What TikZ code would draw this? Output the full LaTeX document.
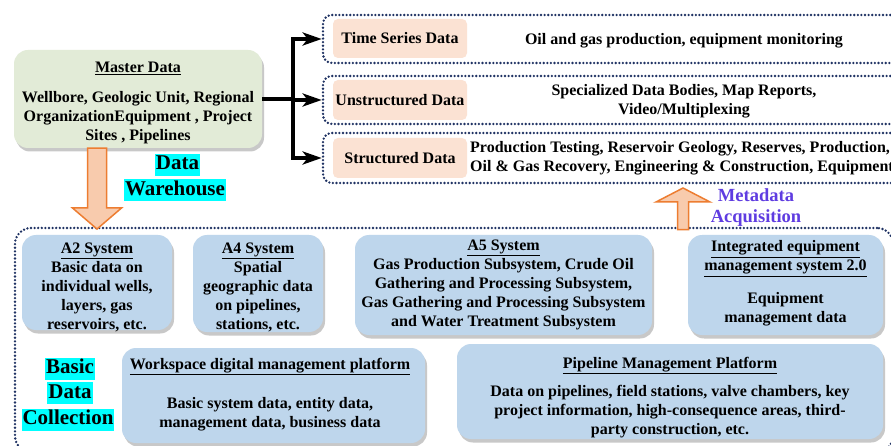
\documentclass[tikz,border=0pt]{standalone}
\usepackage{fontspec}
\setmainfont{Liberation Serif}
\usetikzlibrary{shadows,arrows.meta,calc}
\definecolor{boxblue}{RGB}{190,214,236}
\definecolor{mgreen}{RGB}{226,235,215}
\definecolor{peachf}{RGB}{251,226,211}
\definecolor{navyd}{RGB}{31,50,99}
\definecolor{orfill}{RGB}{248,203,173}
\definecolor{ordraw}{RGB}{237,125,49}
\definecolor{metac}{RGB}{95,60,225}
\definecolor{hlcyan}{RGB}{0,255,255}
\newcommand{\bodyf}{\fontsize{16}{19}\selectfont\bfseries}
\newcommand{\bigf}{\fontsize{21}{24}\selectfont\bfseries}
\newcommand{\metaf}{\fontsize{18.5}{21}\selectfont\bfseries}
\begin{document}
\begin{tikzpicture}[x=1pt,y=-1pt,
  softshadow/.style={drop shadow={shadow xshift=2pt,shadow yshift=-3.5pt,opacity=0.3,fill=black!70}},
  bluebox/.style={fill=boxblue,rounded corners=14pt,inner sep=0pt,softshadow},
  greenbox/.style={fill=mgreen,rounded corners=14pt,inner sep=0pt,softshadow},
  peachbox/.style={fill=peachf,rounded corners=5pt,inner sep=0pt},
  dotframe/.style={draw=navyd,line width=2.6pt,dash pattern=on 0pt off 3.6pt,line cap=round,rounded corners=9pt,inner sep=0pt},
  txt/.style={font=\bodyf,align=center,inner sep=0pt},
  hl/.style={fill=hlcyan,font=\bigf,inner sep=1pt,text height=15pt,text depth=5pt},
  thickline/.style={line width=3.5pt,black},
  tip/.style={-{Stealth[length=19pt,width=13pt,inset=5pt]}},
  bigarrow/.style={fill=orfill,draw=ordraw,line width=1.5pt,line join=miter}
]
\useasboundingbox (0,0) rectangle (891,446);
\fill[white] (0,0) rectangle (891,446);
\clip (0,0) rectangle (891,446);

% top-right dotted frames
\node[dotframe,minimum width=587,minimum height=48] (tsf) at (616.5,39) {};
\node[dotframe,minimum width=587,minimum height=48] (usf) at (616.5,100) {};
\node[dotframe,minimum width=587,minimum height=50] (sf) at (616.5,158) {};

\node[peachbox,minimum width=134,minimum height=39] (tsp) at (400,38.5) {};
\node[peachbox,minimum width=134,minimum height=40] (usp) at (400,100) {};
\node[peachbox,minimum width=134,minimum height=40] (sp) at (400,158) {};
\node[txt] (tst) at (tsp.center) {Time Series Data};
\node[txt] (ust) at (usp.center) {Unstructured Data};
\node[txt] (spt) at (sp.center) {Structured Data};

\node[txt] (tsb) at (684,41) {Oil and gas production, equipment monitoring};
\node[txt] (usb) at (684,101) {Specialized Data Bodies, Map Reports,\\Video/Multiplexing};
\node[txt,align=left,anchor=west] (sb) at (470,158) {Production Testing, Reservoir Geology, Reserves, Production,\\Oil \& Gas Recovery, Engineering \& Construction, Equipment};

% master data
\node[greenbox,minimum width=248,minimum height=98] (master) at (138,99) {};
\node[txt] (mastert) at (138,103) {\underline{Master Data}\\[11pt]Wellbore, Geologic Unit, Regional\\OrganizationEquipment , Project\\Sites , Pipelines};

% connectors
\coordinate (bus) at (293,99);
\draw[thickline] (master.east) -- (bus);
\draw[thickline,line cap=rect] (bus |- tsf.west) -- (bus |- sf.west);
\draw[thickline,tip] (bus |- tsf.west) -- (tsf.west);
\draw[thickline,tip] (bus |- usf.west) -- (usf.west);
\draw[thickline,tip] (bus |- sf.west) -- (sf.west);

\node[hl] (dw1) at (177.5,165) {Data};
\node[hl] (dw2) at (175,190.5) {Warehouse};

% bottom frame
\node[dotframe,rounded corners=16pt,minimum width=878,minimum height=224] (bf) at (454,340) {};

% blue boxes
\node[bluebox,minimum width=150,minimum height=95] (a2) at (97,282.5) {};
\node[txt] (a2t) at (97,287) {\underline{A2 System}\\Basic data on\\individual wells,\\layers, gas\\reservoirs, etc.};
\node[bluebox,minimum width=130,minimum height=97] (a4) at (258,283.5) {};
\node[txt] (a4t) at (258,287) {\underline{A4 System}\\Spatial\\geographic data\\on pipelines,\\stations, etc.};
\node[bluebox,minimum width=297,minimum height=100] (a5) at (503.5,285) {};
\node[txt] (a5t) at (503.5,285) {\underline{A5 System}\\Gas Production Subsystem, Crude Oil\\Gathering and Processing Subsystem,\\Gas Gathering and Processing Subsystem\\and Water Treatment Subsystem};
\node[bluebox,minimum width=195,minimum height=100] (iem) at (785.5,285) {};
\node[txt] (iemt) at (785.5,283.5) {\underline{Integrated equipment}\\\underline{management system 2.0}\\[14pt]Equipment\\management data};
\node[bluebox,minimum width=303,minimum height=95] (ws) at (273.5,395.5) {};
\node[txt] (wst) at (270,394.5) {\underline{Workspace digital management platform}\\[20pt]Basic system data, entity data,\\management data, business data};
\node[bluebox,minimum width=426,minimum height=95] (pm) at (670,391.5) {};
\node[txt] (pmt) at (670,397.5) {\underline{Pipeline Management Platform}\\[9pt]Data on pipelines, field stations, valve chambers, key\\project information, high-consequence areas, third-\\party construction, etc.};

\node[hl] (bd1) at (70,368.5) {Basic};
\node[hl] (bd2) at (70,393) {Data};
\node[hl] (bd3) at (68,419.5) {Collection};

% orange arrows
\coordinate (dTip) at (97,229);
\coordinate (dTop) at (dTip |- master.south);
\draw[bigarrow] ($(dTop)+(-9.5,0)$) -- ($(dTop)+(9.5,0)$) -- ($(dTip)+(9.5,-21)$) -- ($(dTip)+(24.5,-21)$) -- (dTip) -- ($(dTip)+(-24.5,-21)$) -- ($(dTip)+(-9.5,-21)$) -- cycle;
\coordinate (uTip) at (683,188);
\coordinate (uBot) at ($(uTip |- bf.north)+(0,3)$);
\draw[bigarrow] ($(uBot)+(-5.5,0)$) -- ($(uBot)+(5.5,0)$) -- ($(uTip)+(5.5,14)$) -- ($(uTip)+(27,14)$) -- (uTip) -- ($(uTip)+(-27,14)$) -- ($(uTip)+(-5.5,14)$) -- cycle;

\node[font=\metaf,text=metac,align=center,inner sep=0pt] (meta) at (756,207.5) {Metadata\\Acquisition};
\end{tikzpicture}
\end{document}
